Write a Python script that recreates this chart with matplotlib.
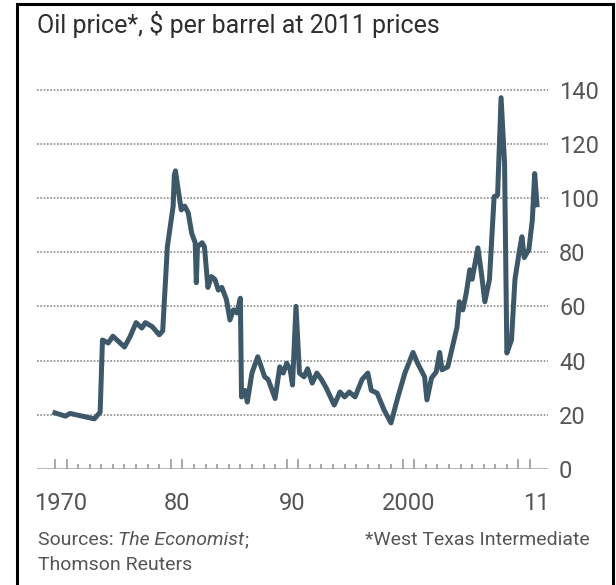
import matplotlib
matplotlib.use('Agg')
import matplotlib.pyplot as plt
from matplotlib import font_manager
from matplotlib.patches import Rectangle
import numpy as np

# decimal year / price (2011 $)
years = [1970.0, 1970.9, 1971.3, 1973.4, 1973.9, 1974.1, 1974.6, 1975.0, 1976.0, 1976.5,
         1977.0, 1977.5, 1977.8, 1978.4, 1979.0, 1979.3, 1979.7, 1980.2, 1980.3, 1980.4,
         1980.6, 1980.9, 1981.2, 1981.5, 1981.8, 1982.1, 1982.2, 1982.3, 1982.7, 1982.9,
         1983.2, 1983.5, 1983.8, 1984.1, 1984.4, 1984.8, 1985.1, 1985.4, 1985.7, 1986.0,
         1986.1, 1986.4, 1986.6, 1987.0, 1987.5, 1988.1, 1988.4, 1989.0, 1989.4, 1989.7,
         1990.0, 1990.3, 1990.5, 1990.8, 1991.1, 1991.5, 1991.8, 1992.2, 1992.6, 1993.0,
         1993.4, 1994.1, 1994.6, 1995.0, 1995.4, 1995.9, 1996.5, 1997.0, 1997.3, 1997.8,
         1998.4, 1999.0, 1999.6, 2000.2, 2000.9, 2001.3, 2001.9, 2002.1, 2002.5, 2002.9,
         2003.2, 2003.4, 2003.9, 2004.3, 2004.7, 2004.9, 2005.2, 2005.5, 2005.8, 2006.0,
         2006.5, 2006.8, 2007.1, 2007.5, 2007.9, 2008.2, 2008.5, 2008.8, 2009.0, 2009.4,
         2009.7, 2010.1, 2010.3, 2010.5, 2010.9, 2011.2, 2011.4, 2011.6]
prices = [20.7, 19.5, 20.5, 18.5, 21.0, 47.6, 46.5, 49.0, 45.0, 49.0,
          54.0, 52.0, 54.0, 52.5, 49.5, 51.0, 82.0, 97.0, 108.5, 110.0,
          104.0, 95.6, 97.0, 94.5, 87.0, 83.5, 68.7, 82.0, 83.5, 82.0,
          67.0, 71.0, 70.0, 66.0, 67.0, 62.5, 55.0, 58.7, 57.6, 63.0,
          26.6, 29.0, 24.7, 35.4, 41.4, 34.0, 33.0, 26.0, 37.7, 35.4,
          39.0, 36.6, 31.0, 60.0, 35.4, 34.0, 37.0, 31.7, 35.4, 33.0,
          30.0, 23.6, 28.4, 26.6, 28.4, 26.6, 33.0, 35.4, 29.0, 28.0,
          21.8, 17.0, 26.6, 35.4, 43.0, 39.0, 34.0, 25.5, 33.6, 35.8,
          43.0, 36.6, 37.7, 45.0, 52.4, 61.7, 58.7, 65.0, 73.5, 70.0,
          81.6, 72.4, 61.7, 70.0, 100.5, 101.0, 137.0, 113.0, 42.8, 47.6,
          70.0, 81.0, 85.7, 78.0, 81.0, 92.0, 109.0, 97.5]

yticks = [0, 20, 40, 60, 80, 100, 120, 140]
xlabels = ['1970', '80', '90', '2000', '11']
xlabel_years = [1970, 1980, 1990, 2000, 2011]
tick_years = list(range(1970, 2012))
tall_years = [1970, 1971, 1980, 1981, 1990, 1991, 2000, 2001, 2010, 2011]


def pick_font(names):
    for n in names:
        try:
            font_manager.findfont(n, fallback_to_default=False)
            return n
        except Exception:
            continue
    return 'DejaVu Sans'


FONT = pick_font(['Liberation Sans Narrow', 'Roboto', 'Lato'])
plt.rcParams['font.family'] = [FONT, 'DejaVu Sans']

line_col = '#3d5868'
txt_col = '#555555'
fs = 14

fig = plt.figure(figsize=(6.16, 5.85), dpi=100)
ax = fig.add_axes([37 / 616, 116 / 585, 511 / 616, 393 / 585])
ax.set_xlim(1968.45, 2012.55)
ax.set_ylim(0, 145)

for v in yticks[1:]:
    ax.axhline(v, color='#8a8a8a', lw=1.2, ls=(0, (1, 1)), zorder=1)
ax.axhline(0, color='#aaaaaa', lw=1.2, zorder=1)

# annual ticks standing on the baseline
short = [y for y in tick_years if y not in tall_years]
ax.vlines(short, 0, 2.0, color='#999999', lw=1.2, zorder=1)
ax.vlines(tall_years, 0, 3.8, color='#999999', lw=1.2, zorder=1)

ax.plot(years, prices, color=line_col, lw=3.6, solid_joinstyle='round', zorder=3)

for s in ax.spines.values():
    s.set_visible(False)
ax.set_xticks([])

ax.yaxis.tick_right()
ax.set_yticks(yticks)
ax.set_yticklabels([str(v) for v in yticks])
ax.tick_params(axis='y', length=0, pad=8, labelsize=17, labelcolor=txt_col)

for lab, yr in zip(xlabels, xlabel_years):
    ax.text(yr + 0.5, -8.5, lab, ha='center', va='top', fontsize=17, color=txt_col,
            transform=ax.transData, clip_on=False)

fig.text(37 / 616, 1 - 25 / 585, 'Oil price*, $ per barrel at 2011 prices',
         ha='left', va='center', fontsize=18, color='#2e2e2e')

# source line: plain + italic + plain pieces laid end to end
src_y = 1 - 540 / 585
t1 = fig.text(38 / 616, src_y, 'Sources: ', ha='left', va='center', fontsize=fs,
              color=txt_col)
fig.canvas.draw()
r = fig.canvas.get_renderer()
x2 = t1.get_window_extent(renderer=r).x1 / fig.bbox.width
t2 = fig.text(x2, src_y, 'The Economist', ha='left', va='center', fontsize=fs,
              color=txt_col, style='italic')
fig.canvas.draw()
x3 = t2.get_window_extent(renderer=r).x1 / fig.bbox.width
fig.text(x3, src_y, ';', ha='left', va='center', fontsize=fs, color=txt_col)
fig.text(38 / 616, 1 - 565 / 585, 'Thomson Reuters', ha='left', va='center', fontsize=fs,
         color=txt_col)
fig.text(590 / 616, src_y, '*West Texas Intermediate', ha='right', va='center',
         fontsize=fs, color=txt_col)

fig.patches.append(Rectangle((17 / 616, -0.02), 596 / 616, 1.02 - 4 / 585,
                             transform=fig.transFigure, fill=False, lw=2.2,
                             edgecolor='black'))

fig.savefig('out.png', dpi=100)
